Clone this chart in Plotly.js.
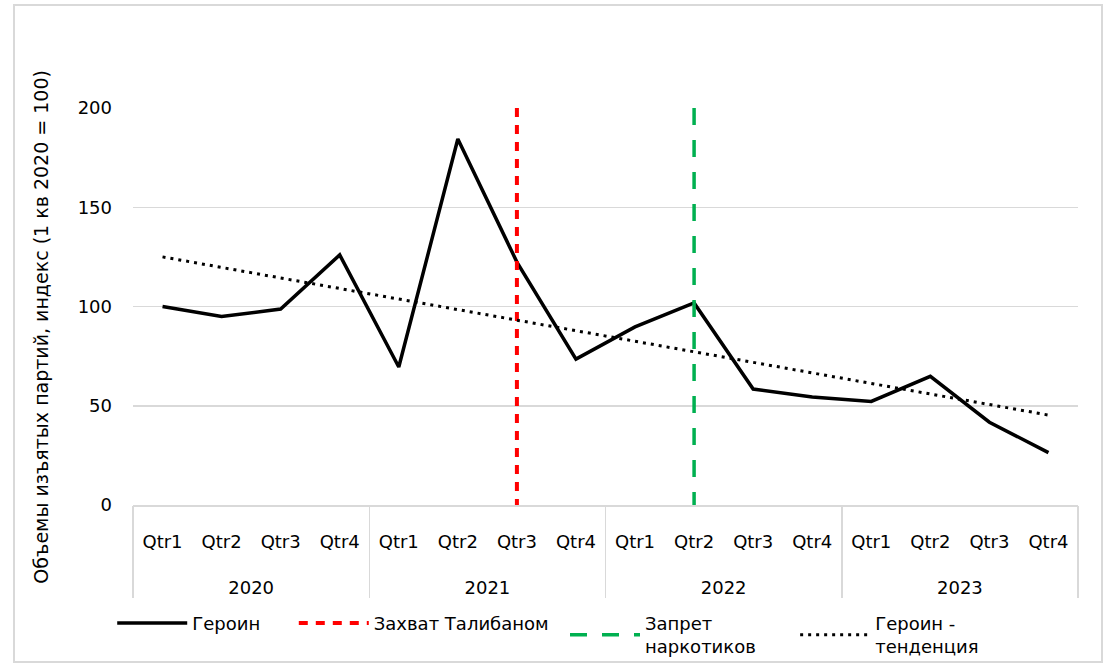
<!DOCTYPE html>
<html>
<head>
<meta charset="utf-8">
<script src="https://cdn.plot.ly/plotly-3.0.1.min.js"></script>
<style>
  html, body { margin: 0; padding: 0; background: #fff; }
  #wrap { position: relative; width: 1106px; height: 664px; }
  #chart { position: absolute; left: 0; top: 0; width: 1106px; height: 664px; }
  #frame { position: absolute; left: 13px; top: 4px; width: 1086px; height: 655px;
           border: 2px solid #d9d9d9; pointer-events: none; }
</style>
</head>
<body>
<div id="wrap">
  <div id="chart"></div>
  <div id="frame"></div>
</div>
<script>
// ---- data ----
const years = ["2020","2020","2020","2020","2021","2021","2021","2021",
               "2022","2022","2022","2022","2023","2023","2023","2023"];
const quarters = ["Qtr1","Qtr2","Qtr3","Qtr4","Qtr1","Qtr2","Qtr3","Qtr4",
                  "Qtr1","Qtr2","Qtr3","Qtr4","Qtr1","Qtr2","Qtr3","Qtr4"];
const heroin = [100, 95, 98.7, 126, 69.5, 184.4, 122.4, 73.5,
                89.7, 101.8, 58.4, 54.4, 52.2, 64.8, 41.7, 26.4];
// trend line end points (first and last quarter)
const trendYears = ["2020","2023"];
const trendQuarters = ["Qtr1","Qtr4"];
const trendValues = [125, 45.3];
// event markers
const talibanYear = "2021", talibanQuarter = "Qtr3";
const banYear = "2022", banQuarter = "Qtr2";
const eventRange = [200, 0];

const seriesNames = ["Героин", "Захват Талибаном", "Запрет<br>наркотиков", "Героин -<br>тенденция"];
const yTitle = "Объемы изъятых партий, индекс (1 кв 2020 = 100)";
const FONT = "DejaVu Sans";

// ---- category keys (year + quarter) ----
const key = (y, q) => y + " " + q;
const keys = years.map((y, i) => key(y, quarters[i]));

// year groups: centre and boundaries in category-index units
const yearList = [...new Set(years)];
const yearCentres = yearList.map(y => (years.indexOf(y) + years.lastIndexOf(y)) / 2);
const boundaries = [-0.5].concat(yearList.map(y => years.lastIndexOf(y) + 0.5));
const catRange = [-0.5, years.length - 0.5];

// trailing non-breaking spaces widen legend entries to Excel's spacing
const pad = n => "\u00a0".repeat(n);

const traces = [
  {
    x: keys, y: heroin, type: "scatter", mode: "lines",
    name: seriesNames[0] + pad(5), line: {color: "#000000", width: 3.5}
  },
  {
    x: [key(talibanYear, talibanQuarter), key(talibanYear, talibanQuarter)], y: eventRange,
    type: "scatter", mode: "lines", name: seriesNames[1] + pad(2),
    line: {color: "#ff0000", width: 4, dash: "9px,8px"}
  },
  {
    x: [key(banYear, banQuarter), key(banYear, banQuarter)], y: eventRange,
    type: "scatter", mode: "lines", name: seriesNames[2] + pad(6),
    line: {color: "#00b050", width: 3.5, dash: "17px,15px"}
  },
  {
    x: [key(trendYears[0], trendQuarters[0]), key(trendYears[1], trendQuarters[1])],
    y: trendValues, type: "scatter", mode: "lines",
    name: seriesNames[3], line: {color: "#000000", width: 3, dash: "3px,5px"}
  },
  // carriers for the year-label axis and divider axis (draw nothing)
  {
    x: yearCentres, y: yearCentres.map(() => null), xaxis: "x2", yaxis: "y",
    type: "scatter", mode: "lines", showlegend: false, hoverinfo: "skip"
  },
  {
    x: boundaries, y: boundaries.map(() => null), xaxis: "x3", yaxis: "y",
    type: "scatter", mode: "lines", showlegend: false, hoverinfo: "skip"
  }
];

const tickFont = {family: FONT, size: 18, color: "#000000"};

const layout = {
  width: 1106, height: 664,
  margin: {l: 133, r: 28, t: 108, b: 159, autoexpand: false},
  paper_bgcolor: "#ffffff", plot_bgcolor: "#ffffff",
  font: {family: FONT, size: 18, color: "#000000"},
  showlegend: true,
  hovermode: false,
  xaxis: {
    type: "category", categoryorder: "array", categoryarray: keys,
    range: catRange, autorange: false,
    tickmode: "array", tickvals: keys, ticktext: quarters,
    showline: true, linecolor: "#d9d9d9", linewidth: 1.5,
    showgrid: false, zeroline: false,
    ticks: "outside", ticklen: 20, tickcolor: "rgba(0,0,0,0)",
    tickfont: tickFont
  },
  // year labels row
  xaxis2: {
    overlaying: "x", anchor: "y", side: "bottom",
    type: "linear", range: catRange, autorange: false,
    tickmode: "array", tickvals: yearCentres, ticktext: yearList,
    showline: false, showgrid: false, zeroline: false,
    ticks: "outside", ticklen: 66, tickcolor: "rgba(0,0,0,0)",
    tickfont: tickFont
  },
  // group dividers
  xaxis3: {
    overlaying: "x", anchor: "y", side: "bottom",
    type: "linear", range: catRange, autorange: false,
    tickmode: "array", tickvals: boundaries, showticklabels: false,
    showline: false, showgrid: false, zeroline: false,
    ticks: "outside", ticklen: 92, tickwidth: 1.5, tickcolor: "#d9d9d9"
  },
  yaxis: {
    range: [0, 200], tickvals: [0, 50, 100, 150, 200],
    showgrid: true, gridcolor: "#d9d9d9", gridwidth: 1.5,
    zeroline: false, showline: false,
    tickfont: tickFont,
    ticklabelstandoff: 20
  },
  legend: {
    orientation: "h", x: -0.022, xanchor: "left", y: -0.327, yanchor: "middle",
    font: {family: FONT, size: 18, color: "#000000"},
    itemwidth: 70,
    tracegroupgap: 0, bgcolor: "rgba(0,0,0,0)"
  },
  annotations: [{
    text: yTitle, xref: "paper", yref: "paper",
    x: -0.097, y: 0.45, xanchor: "center", yanchor: "middle",
    textangle: -90, showarrow: false,
    font: {family: FONT, size: 19, color: "#000000"}
  }]
};

Plotly.newPlot("chart", traces, layout, {staticPlot: true, displayModeBar: false});
</script>
</body>
</html>
